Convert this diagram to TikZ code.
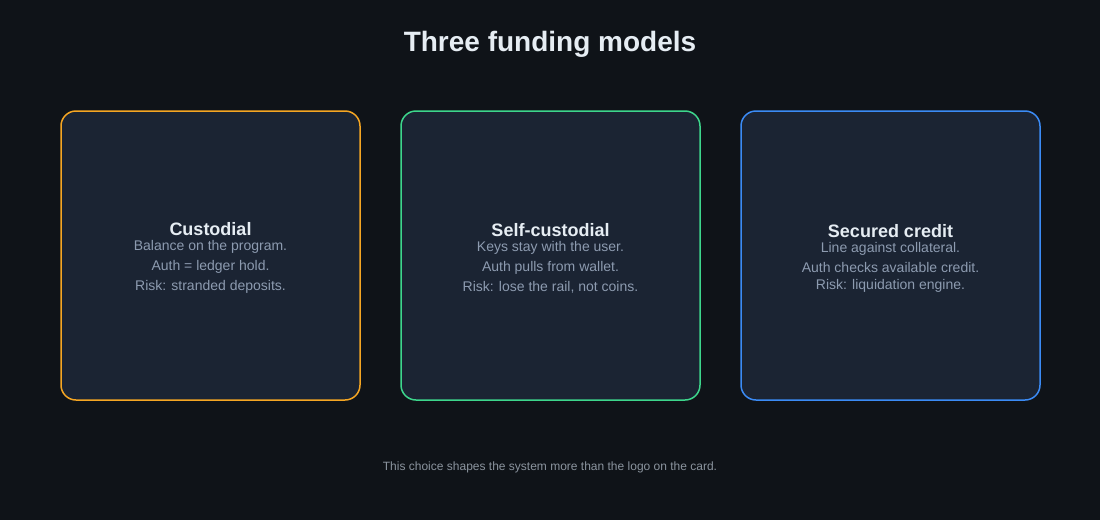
\documentclass[tikz,border=0pt]{standalone}
\usepackage{fontspec}
\setmainfont{Liberation Sans}
\usetikzlibrary{positioning}

\definecolor{pagebg}{HTML}{0F1318}
\definecolor{cardbg}{HTML}{1B2433}
\definecolor{custodialline}{HTML}{F5A623}
\definecolor{selfline}{HTML}{3DD68C}
\definecolor{creditline}{HTML}{3B8BF5}
\definecolor{headtext}{HTML}{E6EDF3}
\definecolor{bodytext}{HTML}{8D9BB0}
\definecolor{notetext}{HTML}{8B949E}

\tikzset{
  card/.style={draw, fill=cardbg, line width=1.5pt, rounded corners=15pt,
    minimum width=299pt, minimum height=289pt, inner sep=0pt},
  cardhead/.style={anchor=base, inner sep=0pt, text=headtext,
    font=\fontsize{18}{20}\selectfont\bfseries},
  cardline/.style={anchor=base, inner sep=0pt, text=bodytext,
    font=\fontsize{14}{16}\selectfont},
}

\begin{document}
\begin{tikzpicture}[x=1pt,y=-1pt]
  \fill[pagebg] (0,0) rectangle (1100,520);
  \node[anchor=base, inner sep=0pt, text=headtext, font=\fontsize{28}{32}\selectfont\bfseries]
    (title) at (550,51) {Three funding models};

  \node[card, draw=custodialline] (custodial) at (210.5,255.5) {};
  \node[cardhead] (custodialhead) at (210.5,235) {Custodial};
  \node[cardline] (custodiala) at (210.5,250) {Balance on the program.};
  \node[cardline] (custodialb) at (210.5,270) {Auth = ledger hold.};
  \node[cardline] (custodialc) at (210.5,290) {Risk: stranded deposits.};

  \node[card, draw=selfline] (selfcust) at (550.5,255.5) {};
  \node[cardhead] (selfcusthead) at (550.5,236) {Self-custodial};
  \node[cardline] (selfcusta) at (550.5,251.5) {Keys stay with the user.};
  \node[cardline] (selfcustb) at (550.5,271.5) {Auth pulls from wallet.};
  \node[cardline] (selfcustc) at (550.5,291.5) {Risk: lose the rail, not coins.};

  \node[card, draw=creditline] (credit) at (890.5,255.5) {};
  \node[cardhead] (credithead) at (890.5,237) {Secured credit};
  \node[cardline] (credita) at (890.5,252.5) {Line against collateral.};
  \node[cardline] (creditb) at (890.5,272.5) {Auth checks available credit.};
  \node[cardline] (creditc) at (890.5,289.5) {Risk: liquidation engine.};

  \node[anchor=base, inner sep=0pt, text=notetext, font=\fontsize{12}{14}\selectfont]
    (note) at (550,470) {This choice shapes the system more than the logo on the card.};
\end{tikzpicture}
\end{document}
